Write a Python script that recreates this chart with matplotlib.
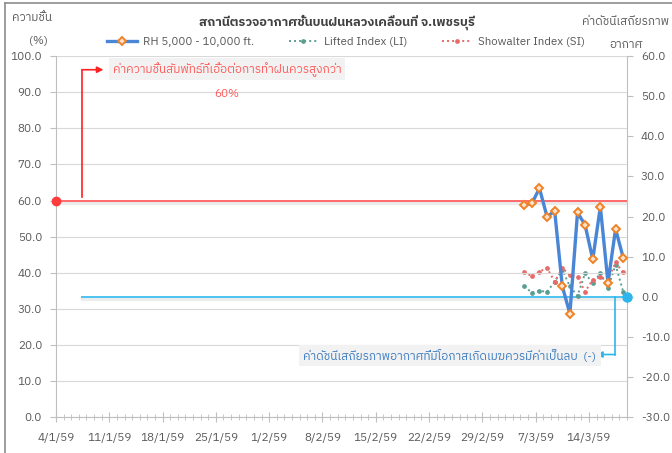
import datetime as dt
import matplotlib
matplotlib.use("Agg")
import matplotlib.pyplot as plt
import matplotlib.dates as mdates
import matplotlib.patheffects as pe
from matplotlib import font_manager as fm
from matplotlib.ft2font import FT2Font
from matplotlib.lines import Line2D

# ---------------- data ----------------
dates = ["2016-03-05", "2016-03-06", "2016-03-07", "2016-03-08", "2016-03-09",
         "2016-03-10", "2016-03-11", "2016-03-12", "2016-03-13", "2016-03-14",
         "2016-03-15", "2016-03-16", "2016-03-17", "2016-03-18"]
rh = [58.7, 59.2, 63.4, 55.5, 57.1, 36.3, 28.7, 56.7, 53.2, 43.7, 58.3, 37.3, 52.1, 44.2]
lifted_index = [2.6, 1.1, 1.5, 1.3, 3.8, 6.8, 2.6, 0.3, 5.9, 3.4, 5.9, 2.2, 8.0, 1.3]
showalter_index = [6.3, 5.1, 6.3, 7.2, 3.8, 7.2, 5.5, 4.9, 1.3, 4.3, 4.9, 4.3, 8.6, 6.1]
tick_labels = ["4/1/59", "11/1/59", "18/1/59", "25/1/59", "1/2/59", "8/2/59",
               "15/2/59", "22/2/59", "29/2/59", "7/3/59", "14/3/59"]
rh_threshold = 60
index_threshold = 0
axis_start = "2016-01-04"
axis_end = "2016-03-19"

title = "สถานีตรวจอากาศชั้นบนฝนหลวงเคลื่อนที่ จ.เพชรบุรี"
left_title = ["ความชื้น", "(%)"]
right_title = ["ค่าดัชนีเสถียรภาพ", "อากาศ"]
series_names = ["RH 5,000 - 10,000 ft.", "Lifted Index (LI)", "Showalter Index (SI)"]
note_rh = "ค่าความชื้นสัมพัทธ์ที่เอื้อต่อการทำฝนควรสูงกว่า"
note_rh2 = "60%"
note_idx = "ค่าดัชนีเสถียรภาพอากาศที่มีโอกาสเกิดเมฆควรมีค่าเป็นลบ  (-)"

# ---------------- fonts ----------------
def find_thai_font():
    prefs = []
    for f in fm.fontManager.ttflist:
        try:
            ft = FT2Font(f.fname)
            if ft.get_char_index(0x0E2A) and ft.get_char_index(0x0041):
                prefs.append(f.name)
        except Exception:
            pass
    for p in prefs:
        if "Thai" in p and "Looped" not in p:
            return p
    return prefs[0] if prefs else None

thai = find_thai_font()
fams = ([thai] if thai else []) + ["DejaVu Sans"]
plt.rcParams["font.family"] = fams

GRAY = "#595959"

def D(s):
    return mdates.date2num(dt.datetime.strptime(s, "%Y-%m-%d"))

x = [D(d) + 0.5 for d in dates]
x0, x1 = D(axis_start), D(axis_end)

fig = plt.figure(figsize=(6.72, 4.53), dpi=100)
ax = fig.add_axes([56 / 672, 1 - 417.4 / 453, 571 / 672, 361.4 / 453])
ax2 = ax.twinx()

ax.set_xlim(x0, x1)
ax.set_ylim(0, 100)
ax2.set_ylim(-30, 60)

ax.set_yticks(range(0, 101, 10))
ax.set_yticklabels([f"{v:.1f}" for v in range(0, 101, 10)])
ax2.set_yticks(range(-30, 61, 10))
ax2.set_yticklabels([f"{v:.1f}" for v in range(-30, 61, 10)])

major = [x0 + 7 * i for i in range(len(tick_labels))]
ax.set_xticks(major)
ax.set_xticklabels(tick_labels)
ax.set_xticks([x0 + i for i in range(int(x1 - x0) + 1)], minor=True)

ax.grid(axis="y", color="#d9d9d9", linewidth=0.8)
ax.set_axisbelow(True)

for a in (ax, ax2):
    a.spines["top"].set_visible(False)
    for s in ("left", "right", "bottom"):
        a.spines[s].set_color("#bfbfbf")
        a.spines[s].set_linewidth(0.8)
ax.spines["right"].set_visible(False)
ax2.spines["left"].set_visible(False)
ax2.spines["bottom"].set_visible(False)

ax.tick_params(axis="y", colors="#bfbfbf", labelcolor=GRAY, labelsize=8.5, length=4, width=0.8, pad=6)
ax2.tick_params(axis="y", colors="#bfbfbf", labelcolor=GRAY, labelsize=8.5, length=4, width=0.8, pad=6)
ax.tick_params(axis="x", which="major", direction="inout", colors="#bfbfbf", labelcolor=GRAY,
               labelsize=8.5, length=7, width=0.8, pad=8)
ax.tick_params(axis="x", which="minor", direction="inout", colors="#bfbfbf", length=4, width=0.6)

shadow = [pe.SimpleLineShadow(offset=(0, -1.8), shadow_color="#999999", alpha=0.18, linewidth=3),
          pe.Normal()]

# reference lines
ax.plot([x0, x1], [rh_threshold, rh_threshold], color="#ff6b6b", lw=1.4, zorder=2,
        path_effects=shadow, solid_capstyle="butt")
ax.plot([x0], [rh_threshold], "o", color="#ff3b3b", ms=6, clip_on=False, zorder=5)
ax2.plot([x0 + 0.043 * (x1 - x0), x1], [index_threshold, index_threshold], color="#4cc3f0",
         lw=1.4, zorder=2, path_effects=shadow, solid_capstyle="butt")
ax2.plot([x1], [index_threshold], "o", color="#2eb6ec", ms=6.5, clip_on=False, zorder=5)

# index series
l_li, = ax2.plot(x, lifted_index, linestyle=(0, (1, 1.6)), color="#5a9e92", lw=1.4,
                 marker="o", ms=2.4, zorder=3)
l_si, = ax2.plot(x, showalter_index, linestyle=(0, (1, 1.6)), color="#e86a6a", lw=1.4,
                 marker="o", ms=2.4, zorder=3)

ax.set_zorder(ax2.get_zorder() + 1)
ax.patch.set_visible(False)

l_rh, = ax.plot(x, rh, color="#4a86d6", lw=2.4, marker="D", ms=4.0, mfc="#fde3cf",
                mec="#f08226", mew=1.4, zorder=4)

# annotations (red)
ax.annotate("", xy=(0.083, 0.962), xytext=(0.0455, 0.962), xycoords="axes fraction",
            arrowprops=dict(arrowstyle="-|>", color="#ff2020", lw=1.2, mutation_scale=9,
                            shrinkA=0, shrinkB=0), zorder=6)
ax.plot([0.0455, 0.0455], [0.61, 0.962], transform=ax.transAxes, color="#ff2020", lw=1.2,
        zorder=6, clip_on=False)
ax.text(0.2995, 0.963, note_rh, transform=ax.transAxes, ha="center", va="center",
        fontsize=8.5, style="italic", color="#ff5a5a", zorder=6,
        bbox=dict(boxstyle="square,pad=0.3", fc="#f2f2f2", ec="none"))
ax.text(0.2995, 0.896, note_rh2, transform=ax.transAxes, ha="center", va="center",
        fontsize=8.5, style="italic", color="#ff5a5a", zorder=6)

# annotations (blue)
ax.plot([0.979, 0.979], [0.333, 0.174], transform=ax.transAxes, color="#2eb6ec", lw=1.2,
        zorder=6, clip_on=False)
ax.annotate("", xy=(0.946, 0.174), xytext=(0.979, 0.174), xycoords="axes fraction",
            arrowprops=dict(arrowstyle="-|>", color="#2eb6ec", lw=1.2, mutation_scale=9,
                            shrinkA=0, shrinkB=0), zorder=6)
ax.text(0.69, 0.172, note_idx, transform=ax.transAxes, ha="center", va="center",
        fontsize=8.5, style="italic", color="#3d7cc0", zorder=6,
        bbox=dict(boxstyle="square,pad=0.35", fc="#f2f2f2", ec="none"))

# titles
fig.text(337 / 672, 1 - 22 / 453, title, ha="center", va="center", fontsize=9.2,
         fontweight="bold", color="#404040")
fig.text(32 / 672, 1 - 18 / 453, left_title[0], ha="center", va="center", fontsize=8.5, color=GRAY)
fig.text(38 / 672, 1 - 41 / 453, left_title[1], ha="center", va="center", fontsize=8.5, color=GRAY)
fig.text(626 / 672, 1 - 22 / 453, right_title[0], ha="center", va="center", fontsize=8.5, color=GRAY)
fig.text(626 / 672, 1 - 45 / 453, right_title[1], ha="center", va="center", fontsize=8.5, color=GRAY)

# legend
handles = [l_rh, l_li, l_si]
fig.legend(handles, series_names, loc="center", bbox_to_anchor=(346 / 672, 1 - 42 / 453),
           ncol=3, frameon=False, fontsize=8.3, handlelength=2.6, columnspacing=3.0,
           labelcolor=GRAY, handletextpad=0.5)

# outer frame (left / top visible)
fig.add_artist(Line2D([5 / 672, 5 / 672], [0, 1 - 3 / 453], transform=fig.transFigure,
                      color="#8c8c8c", lw=1.2))
fig.add_artist(Line2D([5 / 672, 1], [1 - 3 / 453, 1 - 3 / 453], transform=fig.transFigure,
                      color="#8c8c8c", lw=1.2))

fig.savefig("out.png", dpi=100)
